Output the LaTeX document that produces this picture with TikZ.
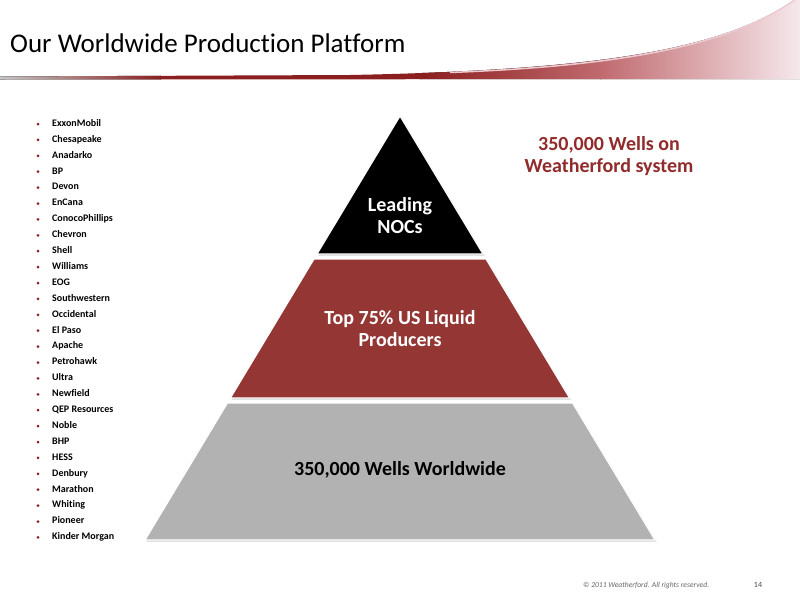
\documentclass[tikz,border=0pt]{standalone}
\usepackage{fontspec}
\setmainfont{Carlito}[Ligatures={NoCommon}]
\usetikzlibrary{positioning}
\definecolor{wfred}{HTML}{943634}
\definecolor{wfdark}{HTML}{8B1E1E}
\definecolor{wftext}{HTML}{922B2B}
\definecolor{wfgray}{HTML}{B2B2B2}
\definecolor{wfrose}{HTML}{C06A6F}
\definecolor{wfpale}{HTML}{F6E8EC}
\definecolor{wfglow}{HTML}{EBCBD1}
\tikzset{
  layer/.style={draw=white, line width=1.2pt},
  layershadow/.style={fill=black!18},
  firm/.style={anchor=mid west, inner sep=0pt, font=\fontsize{10}{12}\selectfont\bfseries},
  tier/.style={align=center, inner sep=0pt, font=\fontsize{20}{22}\selectfont\bfseries},
}

\begin{document}
\begin{tikzpicture}[x=1pt,y=-1pt]
\useasboundingbox (0,0) rectangle (800,600);
\fill[white] (0,0) rectangle (800,600);
% header swoosh
\begin{scope}
\clip (0,76.5) -- (350,75) .. controls (600,70) and (720,50) .. (795,0) -- (800,0) -- (800,79) -- (0,79.5) -- cycle;
\fill[left color=gray!45, right color=wfdark] (0,0) rectangle (161,80);
\fill[wfdark] (160,0) rectangle (421,80);
\fill[left color=wfdark, right color=wfrose] (420,0) rectangle (601,80);
\fill[left color=wfrose, right color=wfpale] (600,0) rectangle (800,80);
\end{scope}
\draw[wfglow, line width=1.5pt] (450,72.5) .. controls (620,66) and (730,46) .. (796,-1); % highlight
\node[anchor=base west, inner sep=0pt, font=\fontsize{27}{31}\selectfont] (title) at (10,52) {Our Worldwide Production Platform};
% company list
\foreach \firmname [count=\i from 0] in {ExxonMobil,Chesapeake,Anadarko,BP,Devon,EnCana,ConocoPhillips,Chevron,Shell,Williams,EOG,Southwestern,Occidental,El Paso,Apache,Petrohawk,Ultra,Newfield,QEP Resources,Noble,BHP,HESS,Denbury,Marathon,Whiting,Pioneer,Kinder Morgan}{
  \node[firm] (firm\i) at (52,{124+\i*15.9}) {\firmname};
  \fill[wfdark] ([xshift=-14pt]firm\i.mid west) circle (1.5);
}
% pyramid
\fill[layershadow] (401.5,117.5) -- (484.5,255.5) -- (318.5,255.5) -- cycle;
\fill[layershadow] (315.5,260.5) -- (487.5,260.5) -- (571,399.5) -- (232,399.5) -- cycle;
\fill[layershadow] (229,404.5) -- (574,404.5) -- (656.5,541.5) -- (146.5,541.5) -- cycle;
\filldraw[layer, fill=black] (400,116) -- (483,254) -- (317,254) -- cycle; % top
\filldraw[layer, fill=wfred] (314,259) -- (486,259) -- (569.6,398) -- (230.4,398) -- cycle; % middle
\filldraw[layer, fill=wfgray] (227.4,403) -- (572.6,403) -- (655,540) -- (145,540) -- cycle; % base
\node[tier, white] (nocs) at (400,216) {Leading\\NOCs};
\node[tier, white] (liquid) at (400,329) {Top 75\% US Liquid\\Producers};
\node[tier, black] (worldwide) at (400,470) {350,000 Wells Worldwide};
\node[tier, wftext] (system) at (609,156) {350,000 Wells on\\Weatherford system};
% footer
\node[anchor=base west, inner sep=0pt, text=black!60, font=\fontsize{7.6}{9}\selectfont\itshape] (copyright) at (583,587) {\textcopyright{} 2011 Weatherford. All rights reserved.};
\node[anchor=base, inner sep=0pt, text=black!70, font=\fontsize{8}{9}\selectfont] (page) at (758,587) {14};
\end{tikzpicture}
\end{document}
